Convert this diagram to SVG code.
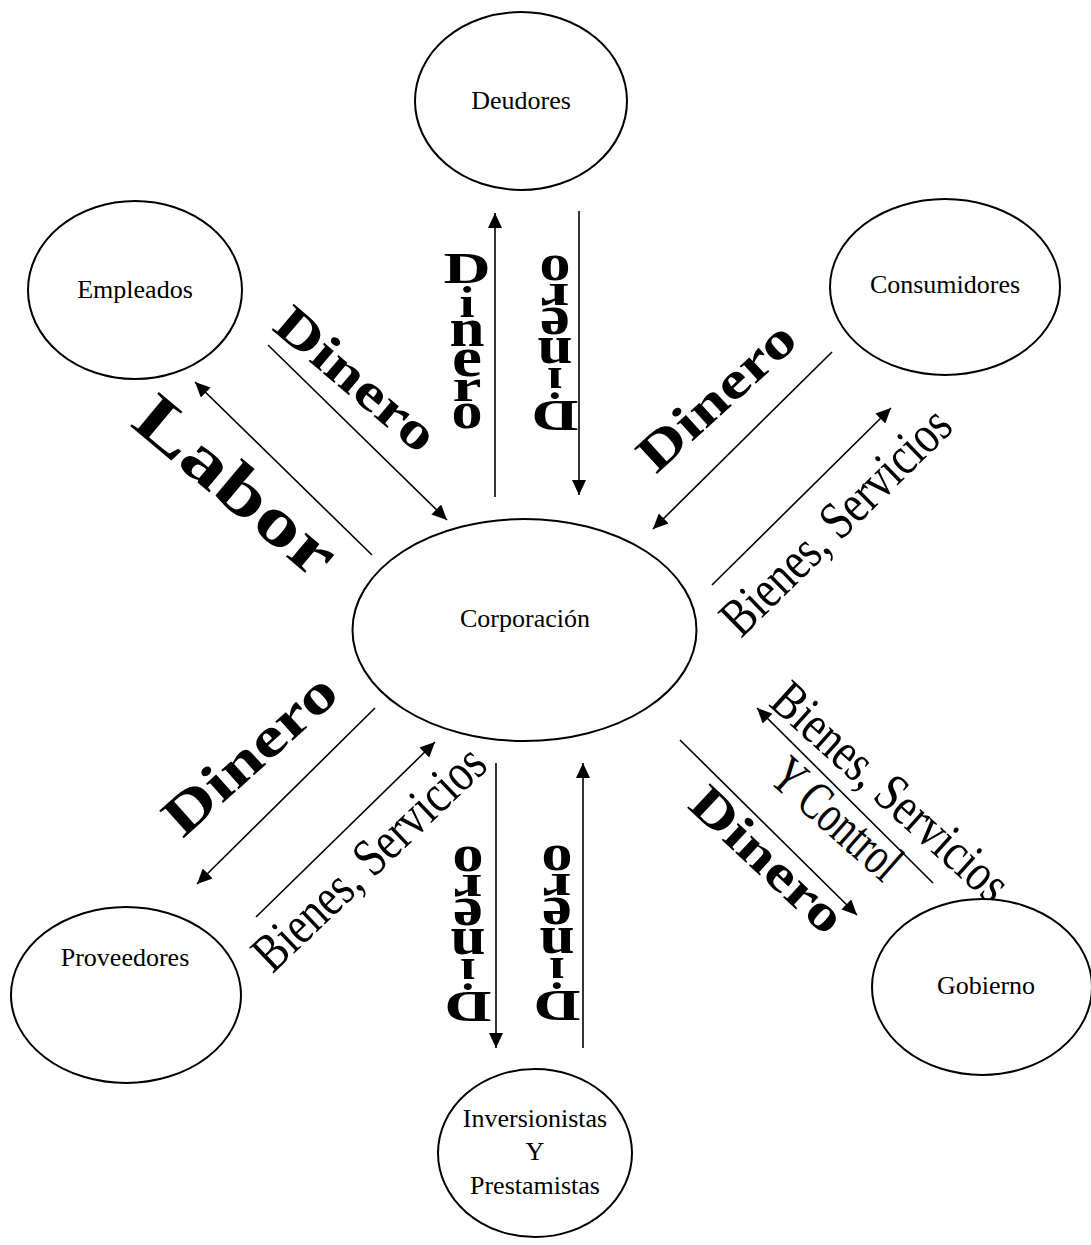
<svg xmlns="http://www.w3.org/2000/svg" xmlns:xlink="http://www.w3.org/1999/xlink" width="1091" height="1245" viewBox="0 0 1091 1245">
<style>
.node{fill:#fff;stroke:#000;stroke-width:2}
.nt{font-family:"Liberation Serif","Times New Roman",serif;font-size:26px;fill:#000;text-anchor:middle}
.con{stroke:#000;stroke-width:1.6;fill:none;marker-end:url(#ah)}
.wa{font-family:"Liberation Serif","Times New Roman",serif;font-weight:bold;fill:#000;text-anchor:middle}
.bs{font-family:"Liberation Serif","Times New Roman",serif;font-size:54px;fill:#000;text-anchor:middle}
</style>
<defs>
<marker id="ah" markerUnits="userSpaceOnUse" markerWidth="16" markerHeight="14" refX="15" refY="7" orient="auto">
<path d="M0,0 L15,7 L0,14 z" fill="#000"/>
</marker>
<g id="stack" class="wa" font-size="45">
<text transform="translate(0,-57.5) scale(1.45,1)">D</text>
<text transform="translate(0,-24) scale(1.2,1)">i</text>
<text transform="translate(0,5.5) scale(1.4,1.22)">n</text>
<text transform="translate(0,35.5) scale(1.5,1.25)">e</text>
<text transform="translate(0,60) scale(1.45,1.05)">r</text>
<text transform="translate(0,87.5) scale(1.38,1.15)">o</text>
</g>
</defs>
<rect width="1091" height="1245" fill="#fff"/>
<g id="connectors">
<line class="con" x1="495" y1="497" x2="495" y2="213"/>
<line class="con" x1="579" y1="211" x2="579" y2="495"/>
<line class="con" x1="268" y1="345" x2="447" y2="520"/>
<line class="con" x1="372" y1="555" x2="195" y2="382"/>
<line class="con" x1="832" y1="352" x2="653" y2="529"/>
<line class="con" x1="712" y1="585" x2="891" y2="408"/>
<line class="con" x1="680" y1="740" x2="857" y2="915"/>
<line class="con" x1="933" y1="883" x2="757" y2="708"/>
<line class="con" x1="375" y1="708" x2="197" y2="884"/>
<line class="con" x1="256" y1="917" x2="435" y2="742"/>
<line class="con" x1="496" y1="763" x2="496" y2="1048"/>
<line class="con" x1="583" y1="1048" x2="583" y2="763"/>
</g>
<g id="labels">
<use xlink:href="#stack" href="#stack" transform="translate(467,340.5)"/>
<use xlink:href="#stack" href="#stack" transform="translate(555,343.5) rotate(180)"/>
<use xlink:href="#stack" href="#stack" transform="translate(468,934.5) rotate(180)"/>
<use xlink:href="#stack" href="#stack" transform="translate(557,933.5) rotate(180)"/>
<text class="wa" font-size="52" transform="translate(345,392) rotate(40.3) scale(1.28,1)">Dinero</text>
<text class="wa" font-size="68" transform="translate(222,503) rotate(40) scale(1.34,1)">Labor</text>
<text class="wa" font-size="52" transform="translate(728,409) rotate(-42.4) scale(1.28,1)">Dinero</text>
<text class="wa" font-size="56" transform="translate(262,768) rotate(-41.9) scale(1.3,1)">Dinero</text>
<text class="wa" font-size="51" transform="translate(756,872) rotate(43) scale(1.28,1)">Dinero</text>
<text class="bs" transform="translate(848,534) rotate(-44.4) scale(0.8,1)">Bienes, Servicios</text>
<text class="bs" transform="translate(381,871) rotate(-43.6) scale(0.8,1)">Bienes, Servicios</text>
<text class="bs" transform="translate(879,805) rotate(42) scale(0.8,1)">Bienes, Servicios</text>
<text class="bs" font-size="48" transform="translate(825,832) rotate(41.6) scale(0.72,1)">Y Control</text>
</g>
<g id="deudores"><ellipse class="node" cx="521" cy="101" rx="106" ry="89"/><text class="nt" x="521" y="109">Deudores</text></g>
<g id="empleados"><ellipse class="node" cx="135" cy="290" rx="107" ry="89"/><text class="nt" x="135" y="298">Empleados</text></g>
<g id="consumidores"><ellipse class="node" cx="945" cy="287" rx="115" ry="88"/><text class="nt" x="945" y="293">Consumidores</text></g>
<g id="corporacion"><ellipse class="node" cx="524.5" cy="630" rx="172" ry="111"/><text class="nt" font-size="32" x="525" y="627">Corporación</text></g>
<g id="proveedores"><ellipse class="node" cx="126" cy="995" rx="115" ry="88"/><text class="nt" x="125" y="966">Proveedores</text></g>
<g id="gobierno"><ellipse class="node" cx="982" cy="987" rx="110" ry="88"/><text class="nt" x="986" y="994">Gobierno</text></g>
<g id="inversionistas"><ellipse class="node" cx="535" cy="1153" rx="97" ry="84"/><text class="nt" font-size="25" x="535" y="1127">Inversionistas</text><text class="nt" font-size="25" x="535" y="1160">Y</text><text class="nt" font-size="25" x="535" y="1194">Prestamistas</text></g>
</svg>
